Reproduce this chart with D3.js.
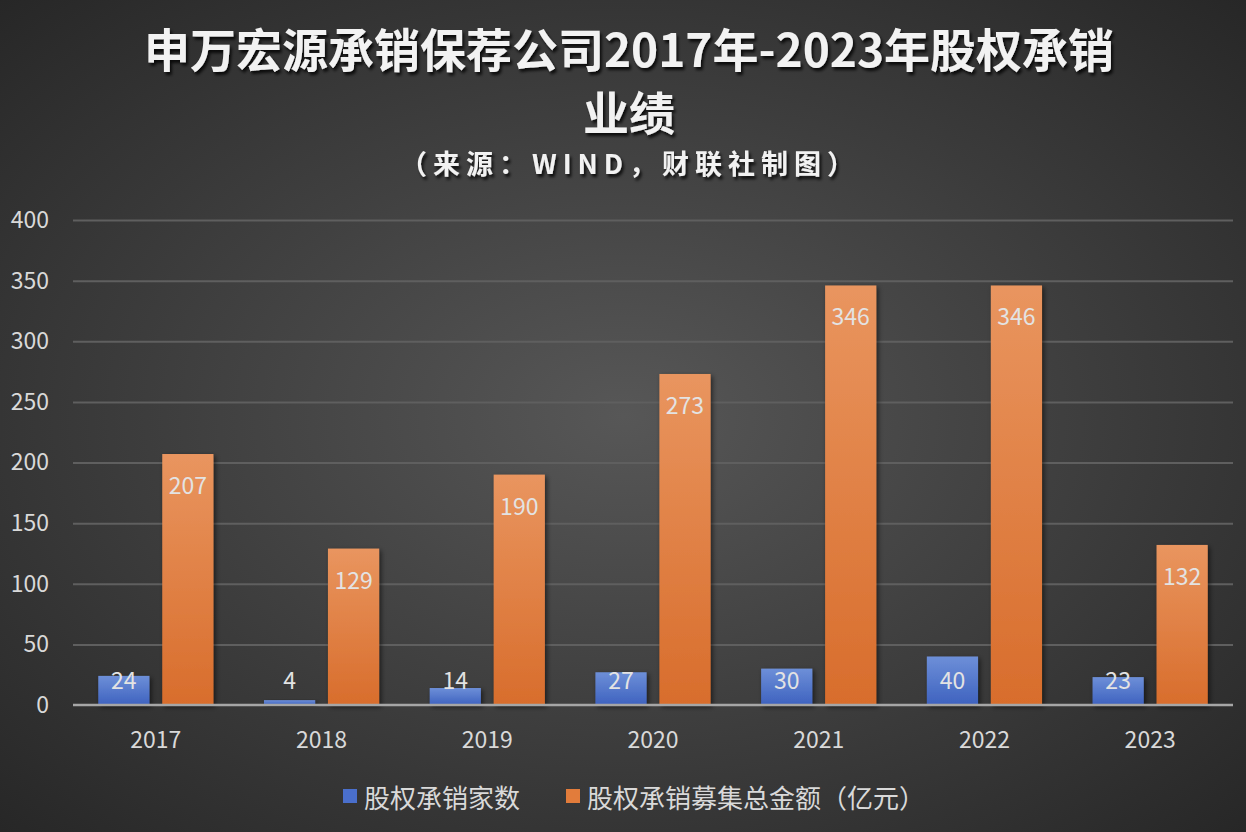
<!DOCTYPE html>
<html><head><meta charset="utf-8">
<script src="https://cdn.jsdelivr.net/npm/d3@7"></script>
<style>html,body{margin:0;padding:0;background:#333;}svg{display:block;}</style>
</head><body>
<svg id="chart" width="1246" height="832"></svg>
<script>
const categories = ["2017","2018","2019","2020","2021","2022","2023"];
const seriesNames = ["股权承销家数","股权承销募集总金额（亿元）"];
const countValues = [24,4,14,27,30,40,23];
const amountValues = [207,129,190,273,346,346,132];
const yTicks = [0,50,100,150,200,250,300,350,400];
const titleLines = ["申万宏源承销保荐公司2017年-2023年股权承销","业绩"];
const subtitle = "（来源：WIND，财联社制图）";

(function(){
const W = 1246, H = 832;
const svg = d3.select("#chart");
const defs = svg.append("defs");
const FONT = "'Noto Sans CJK SC','Noto Sans',sans-serif";

const bg = defs.append("radialGradient").attr("id","bg").attr("cx","50%").attr("cy","50%").attr("r","75%");
bg.append("stop").attr("offset","0%").attr("stop-color","#575757");
bg.append("stop").attr("offset","100%").attr("stop-color","#242424");
svg.append("rect").attr("width",W).attr("height",H).attr("fill","url(#bg)");

const gBlue = defs.append("linearGradient").attr("id","gBlue").attr("x1",0).attr("y1",0).attr("x2",0).attr("y2",1);
gBlue.append("stop").attr("offset","0%").attr("stop-color","#6d8fd8");
gBlue.append("stop").attr("offset","100%").attr("stop-color","#3e62bf");
const gOrange = defs.append("linearGradient").attr("id","gOrange").attr("x1",0).attr("y1",0).attr("x2",0).attr("y2",1);
gOrange.append("stop").attr("offset","0%").attr("stop-color","#e9955f");
gOrange.append("stop").attr("offset","100%").attr("stop-color","#d86d2c");

const shadow = defs.append("filter").attr("id","shadow").attr("x","-20%").attr("y","-20%").attr("width","150%").attr("height","150%");
shadow.append("feDropShadow").attr("dx",2).attr("dy",2).attr("stdDeviation",2.5).attr("flood-color","#000").attr("flood-opacity",0.55);
const tshadow = defs.append("filter").attr("id","tshadow").attr("x","-10%").attr("y","-30%").attr("width","120%").attr("height","160%");
tshadow.append("feDropShadow").attr("dx",2).attr("dy",3).attr("stdDeviation",1.5).attr("flood-color","#000").attr("flood-opacity",0.8);

const mLeft = 73, mRight = 1233, mTop = 220, mBottom = 705;
const x0 = d3.scaleBand().domain(categories).range([mLeft,mRight]).paddingInner(0.305).paddingOuter(0.1525);
const x1 = d3.scaleBand().domain([0,1]).range([0,x0.bandwidth()]).paddingInner(0.2).paddingOuter(0);
const y = d3.scaleLinear().domain([0,400]).range([mBottom,mTop]);

const yAxis = d3.axisLeft(y).tickValues(yTicks).tickSize(-(mRight-mLeft)).tickPadding(24);
const ga = svg.append("g").attr("transform",`translate(${mLeft},0)`).call(yAxis);
ga.select(".domain").remove();
ga.selectAll(".tick line").attr("stroke","#5f5f5f").attr("stroke-width",2).attr("stroke-opacity",d=>d===0?0:1);
ga.selectAll(".tick text").attr("fill","#d9d9d9").attr("font-size",23).attr("font-family",FONT);

const titleG = svg.append("g").attr("filter","url(#tshadow)").attr("fill","#f2f2f2").attr("font-family",FONT).attr("font-weight","bold").attr("text-anchor","middle");
titleG.selectAll("text.t").data(titleLines).join("text").attr("class","t")
  .attr("x",629).attr("y",(d,i)=>47+i*63).attr("dominant-baseline","central")
  .attr("font-size",46).text(d=>d);
titleG.append("text").attr("x",630).attr("y",162).attr("dominant-baseline","central")
  .attr("font-size",27).attr("letter-spacing",6).text(subtitle);

const data = categories.map((c,i)=>({c, vals:[countValues[i],amountValues[i]]}));
const fills = ["url(#gBlue)","url(#gOrange)"];
const groups = svg.append("g").selectAll("g").data(data).join("g").attr("transform",d=>`translate(${x0(d.c)},0)`);
groups.selectAll("rect").data(d=>d.vals.map((v,k)=>({v,k}))).join("rect")
  .attr("x",d=>x1(d.k)).attr("width",x1.bandwidth())
  .attr("y",d=>y(d.v)).attr("height",d=>y(0)-y(d.v))
  .attr("fill",d=>fills[d.k]).attr("filter","url(#shadow)");

const xAxis = d3.axisBottom(x0).tickSize(0).tickPadding(36);
const gx = svg.append("g").attr("transform",`translate(0,${mBottom})`).call(xAxis);
gx.select(".domain").attr("stroke","#a6a6a6").attr("stroke-width",2.5).attr("d",`M${mLeft},0H${mRight}`);
gx.selectAll(".tick text").attr("fill","#d9d9d9").attr("font-size",23).attr("font-family",FONT).attr("dy","0.3em");

groups.selectAll("text.lbl").data(d=>d.vals.map((v,k)=>({v,k}))).join("text").attr("class","lbl")
  .attr("x",d=>x1(d.k)+x1.bandwidth()/2)
  .attr("y",d=>Math.min(y(d.v)+30, y(0)-26))
  .attr("text-anchor","middle").attr("dominant-baseline","central")
  .attr("fill","#e3e3e3").attr("font-size",23).attr("font-family",FONT).text(d=>d.v);

const legend = svg.append("g").attr("font-family",FONT).attr("font-size",26).attr("fill","#d9d9d9");
const legX = [343,566];
seriesNames.forEach((n,i)=>{
  legend.append("rect").attr("x",legX[i]).attr("y",789).attr("width",14).attr("height",14).attr("fill",["#4a6fcc","#e27c3b"][i]);
  legend.append("text").attr("x",legX[i]+21).attr("y",796).attr("dominant-baseline","central").text(n);
});
})();
</script>
</body></html>
